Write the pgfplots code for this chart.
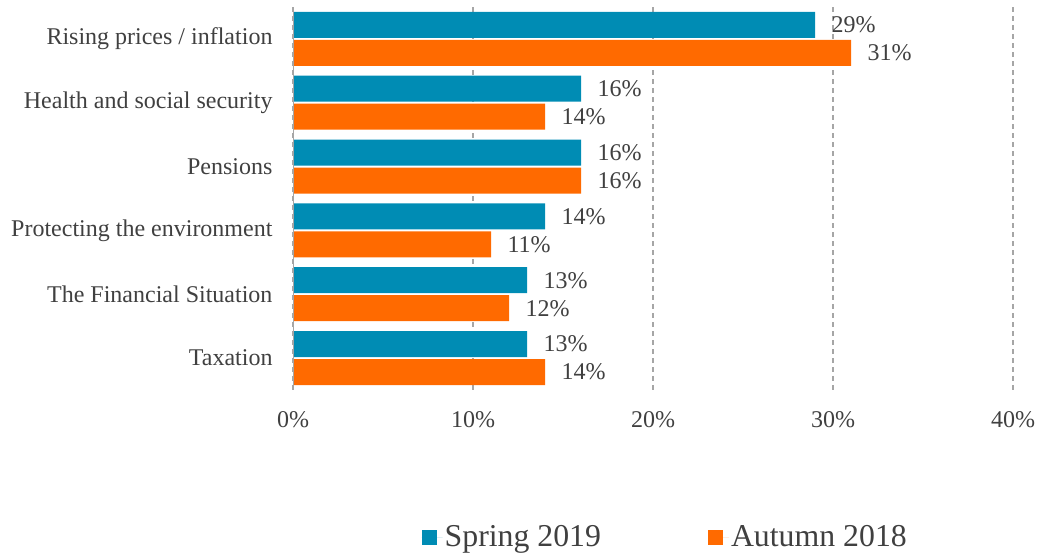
\documentclass[border=0pt]{standalone}
\usepackage{fontspec}
\setmainfont{Liberation Serif}
\usepackage{pgfplots}
\pgfplotsset{compat=1.18}
\definecolor{sblue}{HTML}{008CB4}
\definecolor{aorange}{HTML}{FF6A00}
\definecolor{txt}{HTML}{404040}
\definecolor{gridc}{HTML}{A6A6A6}
\begin{document}
\begin{tikzpicture}[x=1bp,y=1bp]
\path[use as bounding box] (0,0) rectangle (1045,555);
\begin{axis}[
 at={(293bp,165bp)}, anchor=south west,
 scale only axis, width=720bp, height=383bp,
 xbar, bar width=26bp,
 xmin=0, xmax=40, ymin=-0.5, ymax=5.5,
 xtick={0,10,20,30,40}, xticklabels={0\%,10\%,20\%,30\%,40\%},
 ytick={0,...,5},
 yticklabels={Taxation, The Financial Situation, Protecting the environment, Pensions, Health and social security, Rising prices / inflation},
 major tick length=0,
 axis line style={draw=none},
 xmajorgrids,
 major grid style={gridc, line width=1.6bp, dash pattern=on 5bp off 4bp},
 tick label style={font=\fontsize{24bp}{28bp}\selectfont, text=txt},
 xticklabel style={yshift=-18bp},
 yticklabel style={xshift=-17bp},
 /pgf/number format/assume math mode=true,
 nodes near coords={\pgfmathprintnumber{\pgfplotspointmeta}\%},
 nodes near coords style={font=\fontsize{24bp}{28bp}\selectfont, text=txt, anchor=west, xshift=13bp},
 legend style={at={(0.517,-0.384)}, anchor=center, draw=none, legend columns=2,
   font=\fontsize{31.8bp}{36bp}\selectfont, text=txt,
   /tikz/every even column/.append style={column sep=105bp}},
 legend image code/.code={\fill[#1] (0bp,-7.5bp) rectangle (15bp,7.5bp); \path (0bp,0bp) -- (21bp,0bp);},
]
\addplot[fill=sblue, draw=none, bar shift=14bp] coordinates {(13,0) (13,1) (14,2) (16,3) (16,4) (29,5)};
\addplot[fill=aorange, draw=none, bar shift=-14bp] coordinates {(14,0) (12,1) (11,2) (16,3) (14,4) (31,5)};
\legend{Spring 2019, Autumn 2018}
\draw[gridc, line width=2bp] (rel axis cs:0,0) -- (rel axis cs:0,1);
\end{axis}
\end{tikzpicture}
\end{document}
